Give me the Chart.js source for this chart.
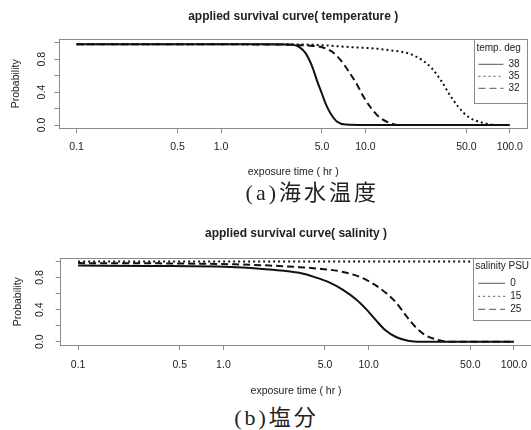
<!DOCTYPE html>
<html><head><meta charset="utf-8">
<script src="https://cdn.jsdelivr.net/npm/chart.js@4.4.1/dist/chart.umd.min.js"></script>
<style>
html,body{margin:0;padding:0;background:#fff;overflow:hidden;width:531px;height:430px;}
canvas{position:absolute;left:0;}
#c1{top:0;} #c2{top:215px;}
.cap{position:absolute;white-space:nowrap;font-family:"Liberation Serif","DejaVu Serif","Noto Sans CJK JP",serif;font-size:22px;line-height:22px;letter-spacing:3px;color:#222;transform:translateX(-50%);}
</style></head><body>
<canvas id="c1" width="531" height="190"></canvas>
<canvas id="c2" width="536" height="190"></canvas>
<div class="cap" style="left:312.3px;top:181.5px;">(a)海水温度</div>
<div class="cap" style="left:276.5px;top:407px;">(b)塩分</div>
<script>
// ---- axis ticks ----
const xTicks = [0.1, 0.5, 1, 5, 10, 50, 100];
const xTickLabels = ['0.1', '0.5', '1.0', '5.0', '10.0', '50.0', '100.0'];
const yTicks = [0, 0.2, 0.4, 0.6, 0.8, 1.0];
const yTickLabels = ['0.0', '', '0.4', '', '0.8', ''];

// ---- (a) temperature ----
const tempTitle = 'applied survival curve( temperature )';
const tempLegendTitle = 'temp. deg';
const tempNames = ['38', '35', '32'];
const temp38X = [0.1, 1, 2, 3.1, 3.47, 3.86, 4.28, 4.64, 5.0, 5.3, 5.74, 6.37, 7.28, 10, 100];
const temp38Y = [0.98, 0.98, 0.98, 0.975, 0.95, 0.87, 0.71, 0.53, 0.38, 0.26, 0.14, 0.04, 0.005, 0, 0];
const temp35X = [0.1, 1, 3, 5, 7.3, 12.3, 14.5, 19.9, 24.6, 28.8, 33.7, 38.6, 44, 51.5, 63.7, 83, 100];
const temp35Y = [0.98, 0.98, 0.98, 0.97, 0.95, 0.925, 0.91, 0.87, 0.79, 0.69, 0.53, 0.36, 0.22, 0.10, 0.03, 0.0, 0];
const temp32X = [0.1, 1, 3, 4, 5.0, 5.5, 5.89, 6.72, 7.67, 8.75, 9.73, 10.8, 12.4, 14.5, 17, 100];
const temp32Y = [0.98, 0.98, 0.975, 0.965, 0.945, 0.92, 0.89, 0.79, 0.65, 0.49, 0.34, 0.22, 0.10, 0.03, 0.0, 0];

// ---- (b) salinity ----
const salTitle = 'applied survival curve( salinity )';
const salLegendTitle = 'salinity PSU';
const salNames = ['0', '15', '25'];
const sal0X = [0.1, 0.3, 1.23, 2.08, 3.33, 4.34, 5.35, 6.61, 8.17, 9.57, 11.2, 13.1, 15.4, 19.0, 23, 100];
const sal0Y = [0.95, 0.945, 0.93, 0.90, 0.86, 0.80, 0.74, 0.65, 0.53, 0.41, 0.27, 0.14, 0.06, 0.01, 0, 0];
const sal15X = [0.1, 100];
const sal15Y = [1.0, 1.0];
const sal25X = [0.1, 0.5, 1.2, 2.08, 3.33, 4.57, 6.27, 8.61, 10.6, 13.1, 15.4, 18.0, 21.1, 24.7, 30.5, 35, 100];
const sal25Y = [0.98, 0.975, 0.965, 0.95, 0.93, 0.91, 0.88, 0.81, 0.73, 0.61, 0.49, 0.33, 0.18, 0.08, 0.02, 0, 0];

const xAxisTitle = 'exposure time ( hr )';
const yAxisTitle = 'Probability';

// ---- styling ----
const FONT = '"Liberation Sans", Arial, Helvetica, sans-serif';
const INK = '#222';
const AXIS = '#8a8a8a';
const SOLID = [], DOTTED = [2, 3], DASHED = [7, 4];

const legendInside = {
  id: 'legendInside',
  beforeLayout(chart) {
    const lg = chart.legend;
    if (lg && !lg._onTop) {
      lg._layers = () => [{ z: 1, draw: (area) => lg.draw(area) }];
      lg._onTop = true;
    }
  },
  afterLayout(chart, args, o) {
    const lg = chart.legend, ca = chart.chartArea;
    lg.left = ca.right - o.textInset;
    lg.right = ca.right - 0.5;
    lg.top = ca.top;
    lg.bottom = ca.top + o.frameHeight;
    lg.width = lg.right - lg.left;
    lg.height = lg.bottom - lg.top;
  },
  afterDatasetsDraw(chart, args, o) {
    const ca = chart.chartArea, ctx = chart.ctx;
    const x0 = Math.round(ca.right - o.frameInset) + 0.5;
    const y0 = Math.round(ca.top) + 0.5;
    const x1 = Math.round(ca.right) + 0.5;
    const y1 = Math.round(ca.top + o.frameHeight) + 0.5;
    ctx.save();
    ctx.fillStyle = '#fff';
    ctx.fillRect(x0, y0, x1 - x0, y1 - y0);
    ctx.strokeStyle = o.color;
    ctx.lineWidth = 1;
    ctx.strokeRect(x0, y0, x1 - x0, y1 - y0);
    ctx.restore();
  }
};

function makeChart(id, cfg) {
  const tf = { family: FONT, size: 10.5 };
  const gridOpts = { drawOnChartArea: false, drawTicks: true, tickLength: 5, color: AXIS, tickColor: AXIS, lineWidth: 1 };
  return new Chart(document.getElementById(id), {
    type: 'line',
    data: {
      datasets: cfg.series.map(s => ({
        label: s.label,
        data: s.x.map((x, i) => ({ x: x, y: s.y[i] })),
        borderColor: '#111', borderWidth: 2, borderDash: s.dash,
        pointRadius: 0, pointHoverRadius: 0, fill: false, cubicInterpolationMode: 'monotone'
      }))
    },
    options: {
      responsive: false, animation: false, devicePixelRatio: 1, events: [],
      layout: { padding: { left: 0, right: cfg.padRight, top: 0, bottom: 0 }, autoPadding: false },
      plugins: {
        title: { display: true, text: cfg.title, fullSize: false, color: INK,
                 font: { family: FONT, size: 12, weight: 'bold' }, padding: cfg.titlePad },
        legend: {
          position: 'chartArea', align: 'start',
          labels: {
            usePointStyle: true, pointStyle: 'line', pointStyleWidth: cfg.sampleW, padding: cfg.itemPad,
            textAlign: 'left', color: INK, font: { family: FONT, size: 10 },
            generateLabels: (chart) => Chart.defaults.plugins.legend.labels.generateLabels(chart).map(l =>
              Object.assign(l, { strokeStyle: '#777', lineWidth: 1.2,
                                 lineDash: chart.data.datasets[l.datasetIndex].borderDash || [] }))
          },
          title: { display: true, text: cfg.legendTitle, position: 'start', color: INK,
                   font: { family: FONT, size: 10 }, padding: cfg.legendTitlePad }
        },
        tooltip: { enabled: false },
        legendInside: cfg.frame
      },
      scales: {
        x: {
          type: 'logarithmic', position: 'bottom', min: 0.07586, max: 131.83, bounds: 'data',
          afterBuildTicks: s => { s.ticks = xTicks.map(v => ({ value: v })); },
          afterFit: s => { s.height = cfg.xH; },
          ticks: { autoSkip: false, maxRotation: 0, minRotation: 0, padding: cfg.xTickPad, color: INK, font: tf,
                   callback: (v, i) => xTickLabels[i] },
          grid: gridOpts,
          border: { display: true, color: AXIS, width: 1 },
          title: { display: true, text: xAxisTitle, color: INK, font: tf, padding: { top: 0, bottom: cfg.xTitlePad } }
        },
        y: {
          type: 'linear', position: 'left', min: -0.04, max: 1.04, bounds: 'data',
          afterBuildTicks: s => { s.ticks = yTicks.map(v => ({ value: v })); },
          afterFit: s => { s.width = cfg.yW; },
          ticks: { autoSkip: false, minRotation: 90, maxRotation: 90, crossAlign: 'center', padding: cfg.yTickPad,
                   color: INK, font: tf, callback: (v, i) => yTickLabels[i] },
          grid: gridOpts,
          border: { display: true, color: AXIS, width: 1 },
          title: { display: true, text: yAxisTitle, color: INK, font: tf, padding: { top: cfg.yTitlePad, bottom: 0 } }
        },
        xTop: {
          type: 'linear', position: 'top', display: true, ticks: { display: false },
          grid: { drawOnChartArea: false, drawTicks: false }, border: { display: true, color: AXIS, width: 1 },
          afterFit: s => { s.height = 0; }
        },
        yRight: {
          type: 'linear', position: 'right', display: true, ticks: { display: false },
          grid: { drawOnChartArea: false, drawTicks: false }, border: { display: true, color: AXIS, width: 1 },
          afterFit: s => { s.width = 0; }
        }
      }
    },
    plugins: [legendInside]
  });
}

makeChart('c1', {
  title: tempTitle, legendTitle: tempLegendTitle,
  series: [
    { label: tempNames[0], x: temp38X, y: temp38Y, dash: SOLID },
    { label: tempNames[1], x: temp35X, y: temp35Y, dash: DOTTED },
    { label: tempNames[2], x: temp32X, y: temp32Y, dash: DASHED }
  ],
  padRight: 2, titlePad: { top: 9.1, bottom: 15.9 },
  xH: 61.7, xTickPad: 7.9, xTitlePad: 12,
  yW: 59.3, yTickPad: 5.3, yTitlePad: 9.5,
  sampleW: 25, itemPad: 2, legendTitlePad: { top: 3.9, bottom: 2 },
  frame: { textInset: 50.7, frameInset: 53, frameHeight: 63.3, color: AXIS }
});

makeChart('c2', {
  title: salTitle, legendTitle: salLegendTitle,
  series: [
    { label: salNames[0], x: sal0X, y: sal0Y, dash: SOLID },
    { label: salNames[1], x: sal15X, y: sal15Y, dash: DOTTED },
    { label: salNames[2], x: sal25X, y: sal25Y, dash: DASHED }
  ],
  padRight: 3, titlePad: { top: 11.4, bottom: 17.5 },
  xH: 60, xTickPad: 8.7, xTitlePad: 8,
  yW: 60.7, yTickPad: 8.4, yTitlePad: 12,
  sampleW: 27, itemPad: 3, legendTitlePad: { top: 3.4, bottom: 1.6 },
  frame: { textInset: 56.3, frameInset: 58.7, frameHeight: 61.7, color: AXIS }
});
</script>
</body></html>
